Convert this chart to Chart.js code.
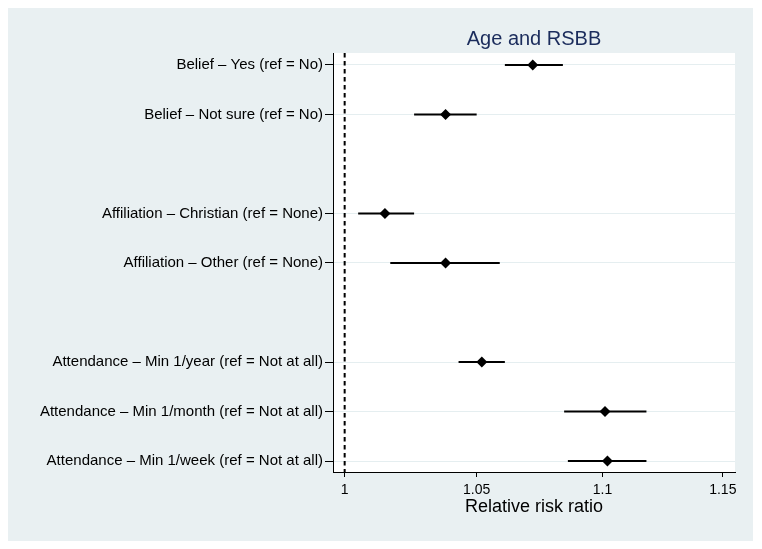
<!DOCTYPE html>
<html>
<head>
<meta charset="utf-8">
<script src="https://cdn.jsdelivr.net/npm/chart.js@4"></script>
<style>
  html, body { margin: 0; padding: 0; background: #fff; }
  #wrap { width: 762px; height: 549px; }
</style>
</head>
<body>
<div id="wrap"><canvas id="rsbbChart" width="762" height="549"></canvas></div>
<script>
// Categories (blank entries are the gaps between groups)
const categories = [
    'Belief \u2013 Yes (ref = No)',
    'Belief \u2013 Not sure (ref = No)',
    '',
    'Affiliation \u2013 Christian (ref = None)',
    'Affiliation \u2013 Other (ref = None)',
    '',
    'Attendance \u2013 Min 1/year (ref = Not at all)',
    'Attendance \u2013 Min 1/month (ref = Not at all)',
    'Attendance \u2013 Min 1/week (ref = Not at all)'
];

// Relative risk ratios and 95% CI
const estimates = [1.072, 1.038, null, 1.015, 1.038, null, 1.052, 1.101, 1.102];
const lowerCI   = [1.061, 1.026, null, 1.005, 1.017, null, 1.043, 1.0845, 1.086];
const upperCI   = [1.084, 1.050, null, 1.026, 1.059, null, 1.061, 1.118, 1.118];

const xTicks = [1, 1.05, 1.1, 1.15];
const refValue = 1;

const chartTitle = 'Age and RSBB';
const xTitle = 'Relative risk ratio';

const FONT = "'Liberation Sans', Arial, Helvetica, sans-serif";
const Y_MIN = -0.24, Y_MAX = 8.22;

// Build datasets
const datasets = [];

// Reference line at 1
datasets.push({
    type: 'line',
    data: [{ x: refValue, y: Y_MIN }, { x: refValue, y: Y_MAX }],
    borderColor: '#000',
    borderWidth: 2,
    borderDash: [4.5, 3.5],
    pointRadius: 0
});

// Confidence intervals
estimates.forEach((est, i) => {
    if (est === null) return;
    datasets.push({
        type: 'line',
        data: [{ x: lowerCI[i], y: i }, { x: upperCI[i], y: i }],
        borderColor: '#000',
        borderWidth: 2,
        pointRadius: 0
    });
});

// Point estimates
datasets.push({
    type: 'scatter',
    data: estimates.map((est, i) => est === null ? null : { x: est, y: i }).filter(Boolean),
    pointStyle: 'rectRot',
    pointRadius: 5.5,
    backgroundColor: '#000',
    borderColor: '#000',
    borderWidth: 0
});

// Background, plot area and title
const stataLook = {
    id: 'stataLook',
    beforeDraw(chart) {
        const ctx = chart.ctx;
        const a = chart.chartArea;
        ctx.save();
        ctx.fillStyle = '#ffffff';
        ctx.fillRect(0, 0, chart.width, chart.height);
        ctx.fillStyle = '#e9f0f2';
        ctx.fillRect(8, 8, 745, 533);
        ctx.fillStyle = '#ffffff';
        ctx.fillRect(a.left, a.top, a.right - a.left, a.bottom - a.top);
        ctx.restore();
    },
    afterDraw(chart) {
        const ctx = chart.ctx;
        const a = chart.chartArea;
        ctx.save();
        ctx.fillStyle = '#1b2c5c';
        ctx.font = '20px ' + FONT;
        ctx.textAlign = 'center';
        ctx.textBaseline = 'alphabetic';
        ctx.fillText(chartTitle, (a.left + a.right) / 2, 45);
        ctx.restore();
    }
};

new Chart(document.getElementById('rsbbChart').getContext('2d'), {
    data: { datasets: datasets },
    plugins: [stataLook],
    options: {
        responsive: false,
        animation: false,
        layout: { padding: { top: 53, right: 27, bottom: 27, left: 0 } },
        plugins: {
            legend: { display: false },
            tooltip: { enabled: false }
        },
        scales: {
            x: {
                type: 'logarithmic',
                min: 0.9957,
                max: 1.1552,
                afterBuildTicks: scale => {
                    scale.ticks = xTicks.map(v => ({ value: v }));
                },
                afterFit: scale => { scale.height = 50; },
                ticks: {
                    color: '#000',
                    font: { family: FONT, size: 14 },
                    padding: 5,
                    maxRotation: 0,
                    autoSkip: false,
                    callback: v => String(v)
                },
                grid: {
                    drawOnChartArea: false,
                    tickColor: '#000',
                    tickLength: 5,
                    color: '#000'
                },
                border: { display: true, color: '#000', width: 1 },
                title: {
                    display: true,
                    text: xTitle,
                    color: '#000',
                    font: { family: FONT, size: 18 }
                }
            },
            y: {
                type: 'linear',
                reverse: true,
                min: Y_MIN,
                max: Y_MAX,
                afterBuildTicks: scale => {
                    scale.ticks = categories
                        .map((c, i) => c ? { value: i } : null)
                        .filter(Boolean);
                },
                afterFit: scale => { scale.width = 333; },
                ticks: {
                    color: '#000',
                    font: { family: FONT, size: 15 },
                    padding: 2,
                    autoSkip: false,
                    callback: v => categories[v]
                },
                grid: {
                    color: '#e5eef0',
                    lineWidth: 1,
                    tickColor: '#000',
                    tickLength: 8
                },
                border: { display: true, color: '#000', width: 1 }
            }
        }
    }
});
</script>
</body>
</html>
